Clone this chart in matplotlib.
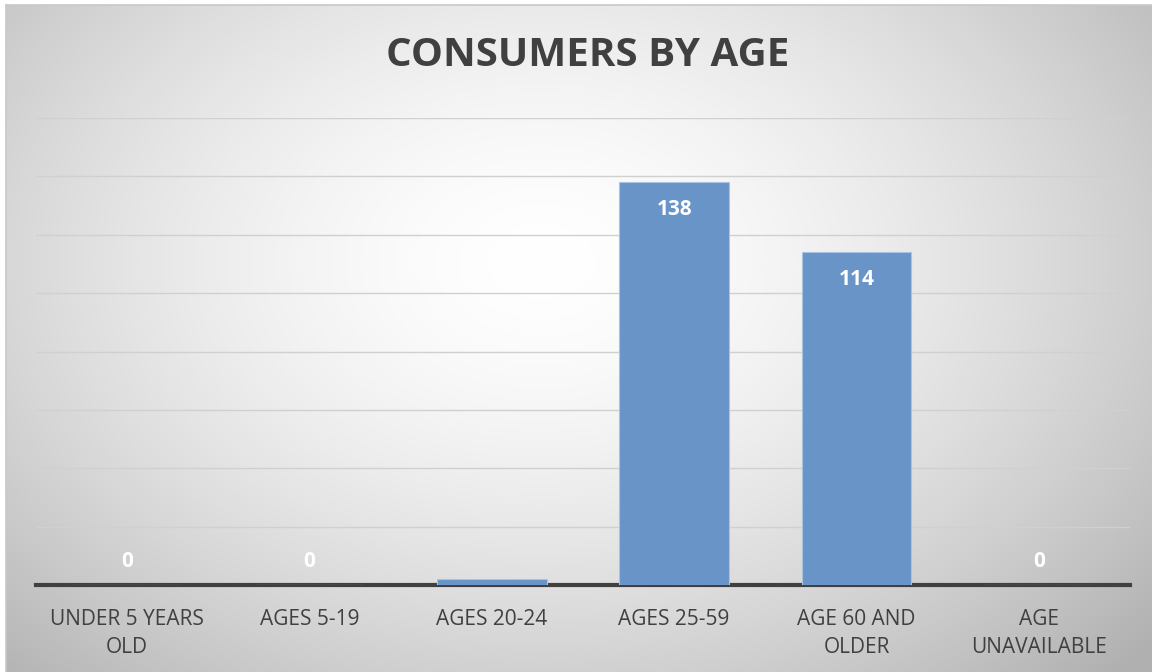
import numpy as np
import matplotlib
matplotlib.use("Agg")
import matplotlib.pyplot as plt

plt.rcParams["font.family"] = ["Open Sans", "DejaVu Sans"]

categories = ["UNDER 5 YEARS\nOLD", "AGES 5-19", "AGES 20-24", "AGES 25-59",
              "AGE 60 AND\nOLDER", "AGE\nUNAVAILABLE"]
consumers = [0, 0, 2, 138, 114, 0]
label_values = ["0", "0", "", "138", "114", "0"]

W, H = 1152, 672
fig = plt.figure(figsize=(W / 100, H / 100), dpi=100)
fig.patch.set_facecolor("white")

# radial grey gradient behind the whole chart area
bg = fig.add_axes([6 / W, 0, 1 - 6 / W, 1 - 5 / H])
ny, nx = 220, 380
yy, xx = np.mgrid[0:ny, 0:nx]
px = 6 + xx / nx * (W - 6)
py = 5 + yy / ny * (H - 5)
d = np.sqrt(((px - 540) / 680) ** 2 + ((py - 260) / 480) ** 2)
shade = 1.0 - 0.23 * np.clip(d, 0, 1.2) ** 1.6
img = np.dstack([shade, shade, shade])
bg.imshow(img, aspect="auto", extent=[0, 1, 1, 0], interpolation="bilinear")
bg.set_axis_off()
fig.add_artist(plt.Line2D([6 / W, 1], [1 - 5 / H, 1 - 5 / H], color="#c8c8c8", lw=1.2))
fig.add_artist(plt.Line2D([6 / W, 6 / W], [0, 1 - 5 / H], color="#c8c8c8", lw=1.2))

ax = fig.add_axes([36 / W, 1 - 585 / H, (1130 - 36) / W, (585 - 118) / H])
ax.patch.set_alpha(0)
x = np.arange(len(categories))
bars = ax.bar(x, consumers, width=0.6, color="#6894c8", edgecolor="#a9c3e2",
              linewidth=0.8, zorder=3)
ax.set_xlim(-0.5, len(categories) - 0.5)
ax.set_ylim(0, 160)
ax.set_yticks(np.arange(0, 161, 20))
ax.yaxis.grid(True, color="#d0d0d0", lw=1.0, zorder=0)
ax.tick_params(axis="y", left=False, labelleft=False)
ax.tick_params(axis="x", length=0, pad=17, labelsize=15, colors="#404040")
ax.set_xticks(x)
ax.set_xticklabels(categories, linespacing=1.45)
for s in ["top", "right", "left"]:
    ax.spines[s].set_visible(False)
ax.spines["bottom"].set_color("#404040")
ax.spines["bottom"].set_linewidth(3.0)
ax.spines["bottom"].set_zorder(2)

for xi, v, lab in zip(x, consumers, label_values):
    dy = -19.5 if v > 20 else 17
    ax.annotate(lab, (xi, v), xytext=(0, dy), textcoords="offset points",
                ha="center", va="center", color="white", fontsize=15,
                fontweight="bold", zorder=5)

fig.text(588 / W, 1 - 55 / H, "CONSUMERS BY AGE", ha="center", va="center",
         fontsize=29, fontweight="bold", color="#404040")

fig.savefig("out.png", dpi=100)
